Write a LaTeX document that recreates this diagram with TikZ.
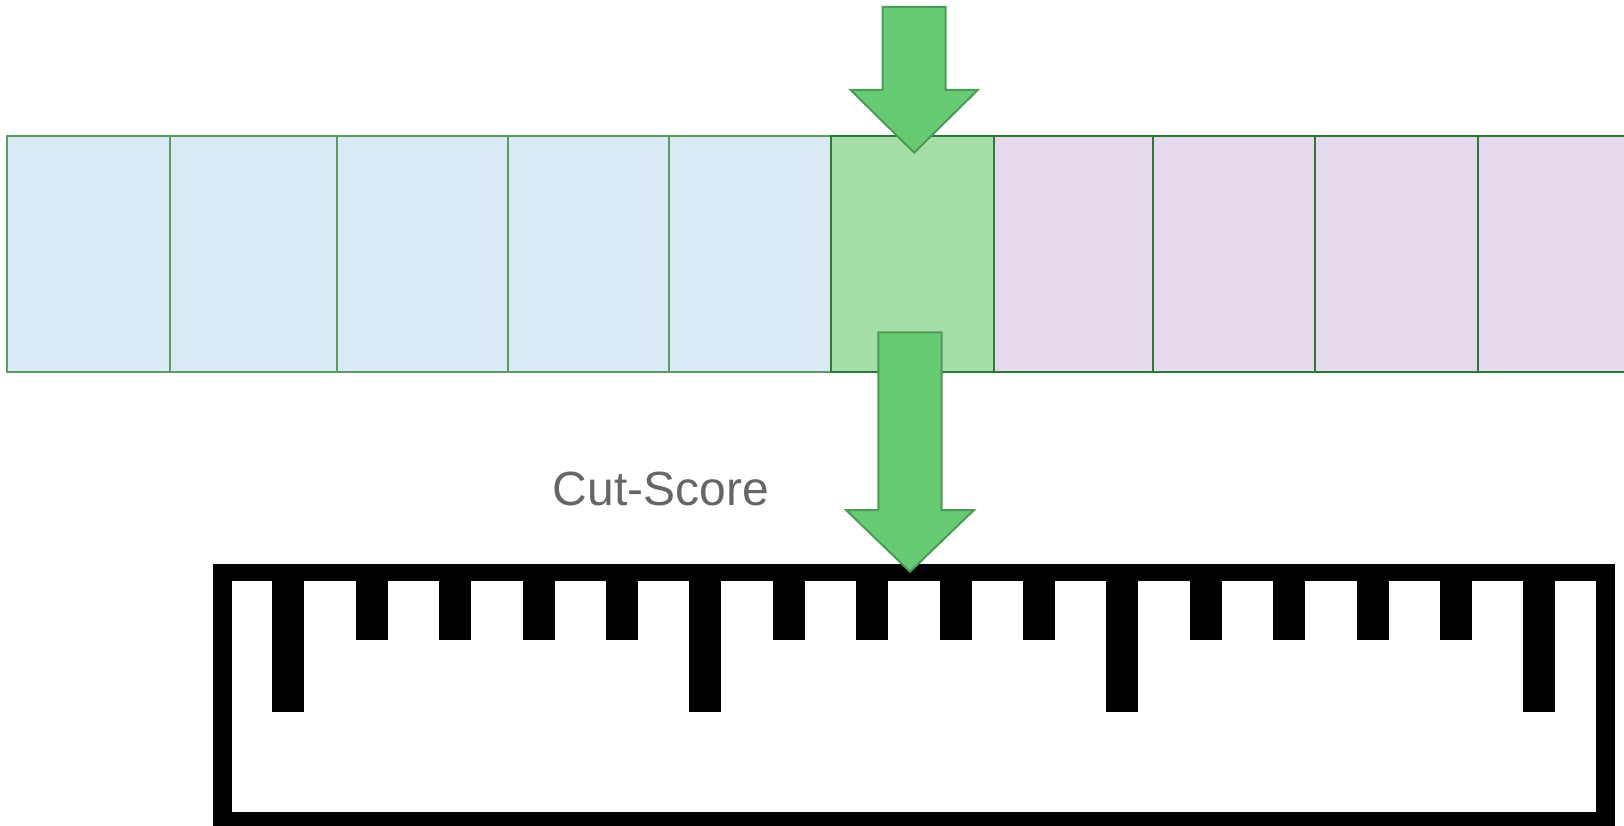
\documentclass[tikz,border=0pt]{standalone}
\usepackage{fontspec}
\setmainfont{Liberation Sans}
\usepackage{tikz}
\definecolor{cellblue}{HTML}{D9E9F5}
\definecolor{cellgreen}{HTML}{A5DFA7}
\definecolor{cellpurple}{HTML}{E7D9EC}
\definecolor{lineblue}{HTML}{5A9E5E}
\definecolor{linedark}{HTML}{2E7A35}
\definecolor{arrowfill}{HTML}{67CB73}
\definecolor{arrowline}{HTML}{4C9A55}
\definecolor{textgray}{HTML}{666666}

\begin{document}
\begin{tikzpicture}[x=1pt,y=-1pt,
  cellbox/.style={line width=2pt, minimum height=236pt, inner sep=0pt, outer sep=0pt},
  bluecell/.style={cellbox, draw=lineblue, fill=cellblue},
  greencell/.style={cellbox, draw=linedark, fill=cellgreen},
  purplecell/.style={cellbox, draw=linedark, fill=cellpurple},
  fatarrow/.style={draw=arrowline, fill=arrowfill, line width=2pt, line join=miter}]
\useasboundingbox (0,0) rectangle (1624,826);
\foreach \xa/\xb [count=\i] in {7.2/170,170/336.5,336.5/507.5,507.5/669,669/830.8}
  \node[bluecell, minimum width={\xb-\xa}] (blue\i) at ({(\xa+\xb)/2},254) {};
\foreach \xa/\xb [count=\i] in {993.5/1152.7,1152.7/1315.3,1315.3/1477.5,1477.5/1650}
  \node[purplecell, minimum width={\xb-\xa}] (purple\i) at ({(\xa+\xb)/2},254) {};
\node[greencell, minimum width=162.7pt] (pick) at (912.15,254) {};
\draw[fatarrow] (882.7,7)--(945.7,7)--(945.7,90)--(977.7,90)--(914.2,152.7)--(850.7,90)--(882.7,90)--cycle;
\node[text=textgray, font=\fontsize{48}{56}\selectfont] (cut) at (661,489) {Cut-Score};
% ruler
\fill (212.7,564) rectangle (1615,840);
\fill[white] (232.3,581) rectangle (1596,811.7);
\foreach \i in {0,...,15}{
  \pgfmathsetmacro{\tickend}{mod(\i,5)==0 ? 711.7 : 640}
  \fill ({272.3+83.4*\i},575) rectangle ({304.3+83.4*\i},\tickend);
}
\draw[fatarrow] (878.3,332.3)--(941.7,332.3)--(941.7,510)--(974,510)--(910,571.7)--(846,510)--(878.3,510)--cycle;
\end{tikzpicture}
\end{document}
